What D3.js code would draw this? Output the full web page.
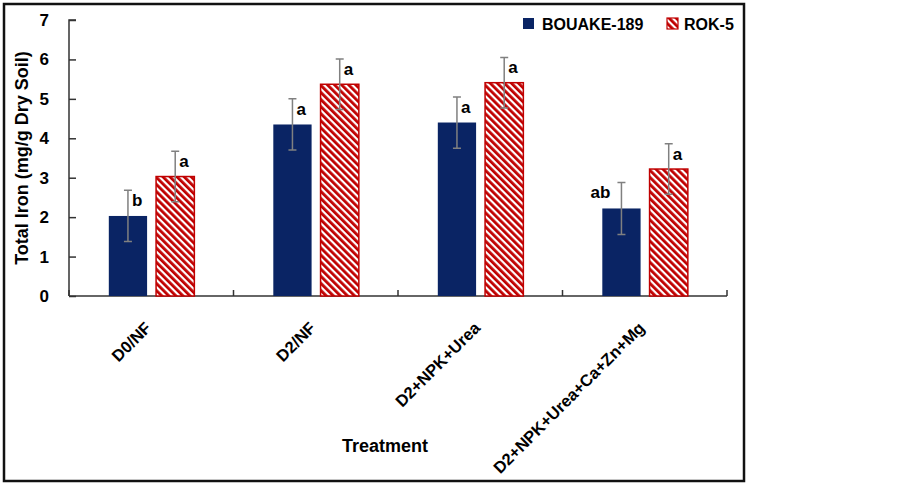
<!DOCTYPE html>
<html>
<head>
<meta charset="utf-8">
<script src="https://cdn.jsdelivr.net/npm/d3@7"></script>
<style>
  body { margin: 0; background: #fff; }
  text { font-family: "Liberation Sans", Arial, sans-serif; font-weight: bold; }
</style>
</head>
<body>
<div id="vis-container"></div>
<script>
// data
const treatments = ["D0/NF", "D2/NF", "D2+NPK+Urea", "D2+NPK+Urea+Ca+Zn+Mg"];
const series = ["BOUAKE-189", "ROK-5"];
const bouake = [2.03, 4.35, 4.40, 2.22];
const rok = [3.03, 5.37, 5.41, 3.22];
const bouakeErr = [0.65, 0.65, 0.65, 0.66];
const rokErr = [0.64, 0.64, 0.64, 0.64];
const bouakeLetters = ["b", "a", "a", "ab"];
const rokLetters = ["a", "a", "a", "a"];
const yTicks = [0, 1, 2, 3, 4, 5, 6, 7];

const width = 903;
const height = 484;
const margin = { top: 20, right: 173, bottom: 188, left: 69 };

const svg = d3.select("#vis-container")
    .append("svg")
    .attr("width", width)
    .attr("height", height);

// stripes for ROK-5
const defs = svg.append("defs");
defs.append("pattern")
    .attr("id", "stripes")
    .attr("patternUnits", "userSpaceOnUse")
    .attr("width", 5)
    .attr("height", 5)
    .attr("patternTransform", "rotate(-45)")
    .call((p) => {
        p.append("rect").attr("width", 5).attr("height", 5).attr("fill", "#fff");
        p.append("rect").attr("width", 2.8).attr("height", 5).attr("fill", "#c00000");
    });

const colors = { "BOUAKE-189": "#0a2464", "ROK-5": "url(#stripes)" };

// rows for the bars
const rows = [];
treatments.forEach((t, i) => {
    rows.push({ t: t, s: series[0], v: bouake[i], e: bouakeErr[i], l: bouakeLetters[i] });
    rows.push({ t: t, s: series[1], v: rok[i], e: rokErr[i], l: rokLetters[i] });
});

// outer frame
svg.append("rect")
    .attr("x", 4).attr("y", 4)
    .attr("width", 740).attr("height", 477)
    .attr("fill", "none")
    .attr("stroke", "#111")
    .attr("stroke-width", 2.5);

const x0 = d3.scaleBand()
    .domain(treatments)
    .range([margin.left, width - margin.right - 3]);

const x1 = d3.scaleBand()
    .domain(series)
    .range([x0.bandwidth() * 0.242, x0.bandwidth() * 0.762])
    .paddingInner(0.19);

const y = d3.scaleLinear()
    .domain([0, 7])
    .range([height - margin.bottom, margin.top]);

// y axis
svg.append("g")
    .attr("transform", `translate(${margin.left},0)`)
    .call(d3.axisRight(y).tickValues(yTicks).tickSize(7).tickFormat(d3.format("d")))
    .call((g) => g.select(".domain").attr("stroke", "#333").attr("stroke-width", 1.5).attr("d", `M7,${y(7)}H0V${y(0)}`))
    .call((g) => g.selectAll(".tick line").attr("stroke", "#333").attr("stroke-width", 1.5))
    .call((g) => g.selectAll(".tick text")
        .attr("x", -20)
        .attr("text-anchor", "end")
        .attr("font-size", "17px")
        .attr("fill", "#000"));

// x axis with ticks at category edges
const xAxis = svg.append("g")
    .attr("transform", `translate(0,${y(0)})`);
xAxis.append("line")
    .attr("x1", margin.left).attr("x2", x0.range()[1])
    .attr("stroke", "#333").attr("stroke-width", 1.5);
xAxis.selectAll(".edge")
    .data(treatments.concat(["end"]))
    .enter()
    .append("line")
    .attr("class", "edge")
    .attr("x1", (d, i) => x0.range()[0] + i * x0.step())
    .attr("x2", (d, i) => x0.range()[0] + i * x0.step())
    .attr("y1", 0).attr("y2", -6)
    .attr("stroke", "#333").attr("stroke-width", 1.5);
xAxis.selectAll(".lab")
    .data(treatments)
    .enter()
    .append("text")
    .attr("class", "lab")
    .attr("text-anchor", "end")
    .attr("font-size", "16.5px")
    .attr("transform", (d) => `translate(${x0(d) + x0.bandwidth() / 2 + 1},${33}) rotate(-45)`)
    .text((d) => d);

// bars
const groups = svg.selectAll(".grp")
    .data(rows)
    .enter()
    .append("g")
    .attr("transform", (d) => `translate(${x0(d.t)},0)`);

groups.append("rect")
    .attr("x", (d) => x1(d.s))
    .attr("y", (d) => y(d.v))
    .attr("width", x1.bandwidth())
    .attr("height", (d) => y(0) - y(d.v))
    .attr("fill", (d) => colors[d.s])
    .attr("stroke", (d) => d.s === "ROK-5" ? "#c00000" : "none")
    .attr("stroke-width", 1.5);

// error bars
const cx = (d) => x1(d.s) + x1.bandwidth() / 2;
groups.append("path")
    .attr("d", (d) => `M${cx(d) - 4},${y(d.v + d.e)}H${cx(d) + 4}M${cx(d)},${y(d.v + d.e)}V${y(d.v - d.e)}M${cx(d) - 4},${y(d.v - d.e)}H${cx(d) + 4}`)
    .attr("fill", "none")
    .attr("stroke", "#808080")
    .attr("stroke-width", 1.5);

// significance letters
groups.append("text")
    .attr("x", (d) => d.l === "ab" ? cx(d) - 11 : cx(d) + 4)
    .attr("y", (d) => y(d.v + d.e) + 16)
    .attr("text-anchor", (d) => d.l === "ab" ? "end" : "start")
    .attr("font-size", "17px")
    .text((d) => d.l);

// axis titles
svg.append("text")
    .attr("transform", `translate(28,${(y(0) + y(7)) / 2}) rotate(-90)`)
    .attr("text-anchor", "middle")
    .attr("font-size", "18px")
    .text("Total Iron (mg/g Dry Soil)");

svg.append("text")
    .attr("x", 385)
    .attr("y", 452)
    .attr("text-anchor", "middle")
    .attr("font-size", "18px")
    .text("Treatment");

// legend
const legend = svg.selectAll(".leg")
    .data(series)
    .enter()
    .append("g")
    .attr("transform", (d, i) => `translate(${[523, 667][i]},18)`);
legend.append("rect")
    .attr("width", 11).attr("height", 11)
    .attr("fill", (d) => colors[d])
    .attr("stroke", (d) => d === "ROK-5" ? "#c00000" : "none")
    .attr("stroke-width", 1.2);
legend.append("text")
    .attr("x", (d) => d === "ROK-5" ? 17 : 19)
    .attr("y", 12)
    .attr("font-size", "16px")
    .text((d) => d);
</script>
</body>
</html>
